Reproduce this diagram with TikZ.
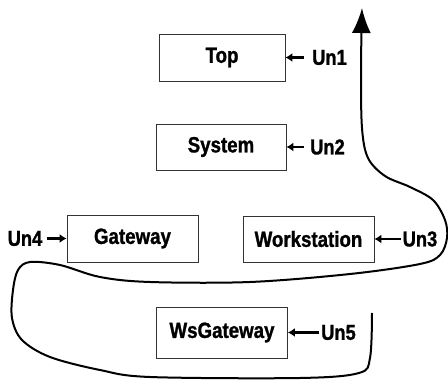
\documentclass[tikz,border=0pt]{standalone}
\usepackage{fontspec}
\setmainfont{Liberation Sans}[FakeStretch=0.85, BoldFeatures={FakeBold=1.2}]
\usetikzlibrary{positioning, arrows.meta}

\tikzset{
  unit/.style={draw=black!80, line width=0.8pt, minimum width=131pt, minimum height=47pt,
    font=\bfseries\fontsize{22}{26}\selectfont},
  tag/.style={inner sep=2pt, font=\bfseries\fontsize{21.5}{26}\selectfont},
  feed/.style={line width=2.5pt, -{Latex[length=7pt,width=9pt]}},
}

\begin{document}
\begin{tikzpicture}[x=1pt, y=-1pt]
  \useasboundingbox (0,0) rectangle (448,385);

  % the units
  \node[unit, minimum width=126pt] (top) at (222,57.5) {Top};
  \node[unit, minimum width=130pt, minimum height=46pt] (system) at (221,147) {System};
  \node[unit] (gateway) at (132.5,238.5) {Gateway};
  \node[unit, minimum height=46pt] (workstation) at (308.5,239) {Workstation};
  \node[unit, minimum height=51pt] (wsgateway) at (222,332.5) {WsGateway};

  % update tags
  \node[tag] (un1) at (329.5,57.5) {Un1};
  \node[tag] (un2) at (327.5,147) {Un2};
  \node[tag] (un3) at (420,239) {Un3};
  \node[tag] (un4) at (25,238.5) {Un4};
  \node[tag] (un5) at (338.5,332.5) {Un5};

  \draw[feed, shorten <=6pt] (un1) -- (top);
  \draw[feed, shorten <=4pt] (un2) -- (system);
  \draw[feed] (un3) -- (workstation);
  \draw[feed, shorten <=3pt] (un4) -- (gateway);
  \draw[feed] (un5) -- (wsgateway);

  % order of the updates
  \draw[line width=2pt, -{Latex[length=25pt,width=19pt]}]
    plot[smooth, tension=0.55] coordinates {(372,313) (370,358) (359,373) (300,378)
      (150,377) (100,370) (50,357) (22,340) (12,318) (13,290) (18,270) (30,262)
      (60,265) (100,277) (150,282) (250,282) (350,274) (420,264) (440,255)
      (447,238) (445,220) (433,200) (410,187) (385,176) (368,158) (362,128)
      (361,70) (362,8)};
\end{tikzpicture}
\end{document}
